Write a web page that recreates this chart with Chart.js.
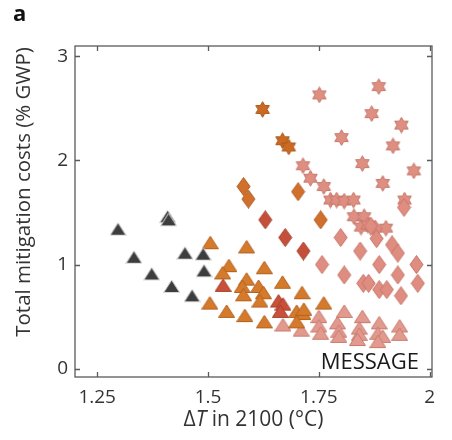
<!DOCTYPE html>
<html>
<head>
<meta charset="utf-8">
<script src="https://cdn.jsdelivr.net/npm/chart.js@4.4.1/dist/chart.umd.min.js"></script>
<style>
  html, body { margin: 0; padding: 0; background: #fff; }
  #wrap { width: 452px; height: 440px; position: relative; }
</style>
</head>
<body>
<div id="wrap"><canvas id="costChart"></canvas></div>
<script>
// Tick positions
const xTicks = [1.25, 1.5, 1.75, 2];
const yTicks = [0, 1, 2, 3];

// Scenario points: [ΔT in 2100 (°C), mitigation cost (% GWP)]
const grayTriangles = [
  [1.297, 1.34], [1.409, 1.46], [1.411, 1.43], [1.333, 1.07], [1.373, 0.91],
  [1.418, 0.79], [1.448, 1.11], [1.489, 1.10], [1.491, 0.94], [1.464, 0.70]
];
const orangeTriangles = [
  [1.505, 1.21], [1.587, 1.17], [1.547, 0.99], [1.533, 0.92], [1.627, 0.97],
  [1.587, 0.86], [1.577, 0.79], [1.580, 0.71], [1.614, 0.79], [1.625, 0.73],
  [1.617, 0.65], [1.668, 0.83], [1.504, 0.63], [1.542, 0.55], [1.583, 0.51],
  [1.627, 0.45], [1.712, 0.73], [1.700, 0.55], [1.714, 0.53], [1.700, 0.45],
  [1.761, 0.63], [1.716, 0.57]
];
const redTriangles = [
  [1.534, 0.80], [1.659, 0.65], [1.669, 0.62], [1.663, 0.55]
];
const pinkTriangles = [
  [1.669, 0.42], [1.710, 0.37], [1.750, 0.50], [1.750, 0.41], [1.754, 0.34],
  [1.792, 0.44], [1.795, 0.36], [1.795, 0.31], [1.807, 0.55], [1.848, 0.50],
  [1.841, 0.39], [1.841, 0.33], [1.837, 0.28], [1.886, 0.44], [1.883, 0.34],
  [1.894, 0.31], [1.883, 0.26], [1.932, 0.41], [1.932, 0.33]
];
const orangeDiamonds = [
  [1.580, 1.75], [1.591, 1.63], [1.703, 1.70], [1.754, 1.43]
];
const redDiamonds = [
  [1.629, 1.43], [1.674, 1.26], [1.715, 1.13]
];
const pinkDiamonds = [
  [1.799, 1.26], [1.757, 1.00], [1.807, 0.90], [1.843, 1.13], [1.850, 0.82],
  [1.862, 0.82], [1.886, 1.00], [1.886, 0.76], [1.903, 0.76], [1.928, 0.90],
  [1.935, 0.70], [1.970, 1.00], [1.973, 0.82], [1.915, 1.19], [1.928, 1.11],
  [1.877, 1.34], [1.880, 1.25], [1.942, 1.55], [1.867, 1.37]
];
const orangeStars = [
  [1.623, 2.49], [1.668, 2.19], [1.682, 2.13]
];
const pinkStars = [
  [1.751, 2.63], [1.885, 2.71], [1.869, 2.45], [1.936, 2.34], [1.801, 2.22],
  [1.917, 2.14], [1.848, 1.97], [1.964, 1.90], [1.894, 1.78], [1.714, 1.95],
  [1.731, 1.83], [1.761, 1.75], [1.776, 1.62], [1.790, 1.62], [1.807, 1.61],
  [1.828, 1.62], [1.943, 1.62], [1.829, 1.46], [1.852, 1.46], [1.901, 1.35],
  [1.845, 1.36], [1.860, 1.38]
];

function toXY(arr) {
  return arr.map(([x, y]) => ({ x, y }));
}

// marker images used as point styles
function makeMarker(shape, fill, edge) {
  const c = document.createElement('canvas');
  const w = shape === 'diamond' ? 15 : 17;
  const h = shape === 'diamond' ? 19 : (shape === 'triangle' ? 15 : 17);
  c.width = w;
  c.height = h;
  const g = c.getContext('2d');
  g.beginPath();
  if (shape === 'triangle') {
    g.moveTo(w / 2, 1);
    g.lineTo(w - 0.5, h - 1.5);
    g.lineTo(0.5, h - 1.5);
  } else if (shape === 'diamond') {
    g.moveTo(w / 2, 0.5);
    g.lineTo(w - 1, h / 2);
    g.lineTo(w / 2, h - 0.5);
    g.lineTo(1, h / 2);
  } else {
    const cx = w / 2, cy = h / 2, ro = 7.8, ri = 4.5;
    for (let i = 0; i < 12; i++) {
      const r = i % 2 === 0 ? ro : ri;
      const a = -Math.PI / 2 + i * Math.PI / 6;
      const px = cx + r * Math.cos(a);
      const py = cy + r * Math.sin(a);
      if (i === 0) g.moveTo(px, py); else g.lineTo(px, py);
    }
  }
  g.closePath();
  g.fillStyle = fill;
  g.fill();
  g.lineWidth = 1;
  g.strokeStyle = edge;
  g.stroke();
  return c;
}

function series(label, data, shape, fill, edge) {
  return {
    label,
    data: toXY(data),
    pointStyle: makeMarker(shape, fill, edge),
    pointRadius: 8,
    pointHoverRadius: 8,
    backgroundColor: fill,
    borderColor: edge
  };
}

// frame and inward ticks on all four sides
const framePlugin = {
  id: 'frame',
  afterDraw(chart) {
    const { ctx, chartArea: a, scales } = chart;
    ctx.save();
    ctx.strokeStyle = '#5a5a5a';
    ctx.lineWidth = 1.3;
    ctx.strokeRect(a.left, a.top, a.right - a.left, a.bottom - a.top);
    ctx.beginPath();
    xTicks.forEach((v) => {
      const px = Math.round(scales.x.getPixelForValue(v)) + 0.5;
      ctx.moveTo(px, a.bottom); ctx.lineTo(px, a.bottom - 5);
      ctx.moveTo(px, a.top); ctx.lineTo(px, a.top + 5);
    });
    yTicks.forEach((v) => {
      const py = Math.round(scales.y.getPixelForValue(v)) + 0.5;
      ctx.moveTo(a.left, py); ctx.lineTo(a.left + 5, py);
      ctx.moveTo(a.right, py); ctx.lineTo(a.right - 5, py);
    });
    ctx.stroke();

    ctx.fillStyle = '#1a1a1a';
    ctx.font = '22px "Open Sans", sans-serif';
    ctx.textAlign = 'right';
    ctx.textBaseline = 'alphabetic';
    ctx.fillText('MESSAGE', a.right - 13, a.bottom - 8);

    // panel letter
    ctx.font = 'bold 22px "Open Sans", sans-serif';
    ctx.textAlign = 'left';
    ctx.fillStyle = '#111';
    ctx.fillText('a', 13, 21);

    // y axis title
    ctx.fillStyle = '#333';
    ctx.font = '20.5px "Open Sans", sans-serif';
    ctx.save();
    ctx.translate(30, 192);
    ctx.rotate(-Math.PI / 2);
    ctx.textAlign = 'center';
    ctx.fillText('Total mitigation costs (% GWP)', 0, 0);
    ctx.restore();

    // x axis title with italic T
    const parts = [
      { t: 'Δ', f: '21px "Open Sans", sans-serif' },
      { t: 'T', f: 'italic 21px "Open Sans", sans-serif' },
      { t: ' in 2100 (°C)', f: '21px "Open Sans", sans-serif' }
    ];
    let total = 0;
    parts.forEach((p) => { ctx.font = p.f; p.w = ctx.measureText(p.t).width; total += p.w; });
    let xx = (a.left + a.right) / 2 - total / 2;
    ctx.textAlign = 'left';
    parts.forEach((p) => { ctx.font = p.f; ctx.fillText(p.t, xx, 426); xx += p.w; });
    ctx.restore();
  }
};

const ctx = document.getElementById('costChart');
new Chart(ctx, {
  type: 'scatter',
  data: {
    datasets: [
      series('gray triangles', grayTriangles, 'triangle', '#3d3d3f', '#d9d9d9'),
      series('red triangles', redTriangles, 'triangle', '#c9503a', '#a8402c'),
      series('orange triangles', orangeTriangles, 'triangle', '#d57a2b', '#b3621f'),
      series('orange stars', orangeStars, 'star', '#cb6a22', '#a9561a'),
      series('red diamonds', redDiamonds, 'diamond', '#c4503b', '#a9432f'),
      series('orange diamonds', orangeDiamonds, 'diamond', '#d0702c', '#b05c20'),
      series('pink triangles', pinkTriangles, 'triangle', '#e29a8f', '#c87a6e'),
      series('pink diamonds', pinkDiamonds, 'diamond', '#df8d80', '#c77469'),
      series('pink stars', pinkStars, 'star', '#de8f82', '#c5766a')
    ]
  },
  plugins: [framePlugin],
  options: {
    responsive: true,
    maintainAspectRatio: false,
    animation: false,
    layout: { padding: { left: 0, top: 46, right: 20, bottom: 0 } },
    plugins: {
      legend: { display: false },
      tooltip: { enabled: false }
    },
    scales: {
      x: {
        type: 'linear',
        min: 1.2,
        max: 2.005,
        afterBuildTicks: (scale) => { scale.ticks = xTicks.map((v) => ({ value: v })); },
        afterFit: (scale) => { scale.height = 63; },
        grid: { display: false, drawTicks: false },
        border: { display: false },
        ticks: {
          padding: 9,
          color: '#333',
          font: { family: 'Open Sans', size: 19 },
          callback: (v) => String(v)
        }
      },
      y: {
        type: 'linear',
        min: -0.08,
        max: 3.1,
        afterBuildTicks: (scale) => { scale.ticks = yTicks.map((v) => ({ value: v })); },
        afterFit: (scale) => { scale.width = 75; },
        grid: { display: false, drawTicks: false },
        border: { display: false },
        ticks: {
          padding: 7,
          color: '#333',
          font: { family: 'Open Sans', size: 19 },
          callback: (v) => String(v)
        }
      }
    }
  }
});
</script>
</body>
</html>
